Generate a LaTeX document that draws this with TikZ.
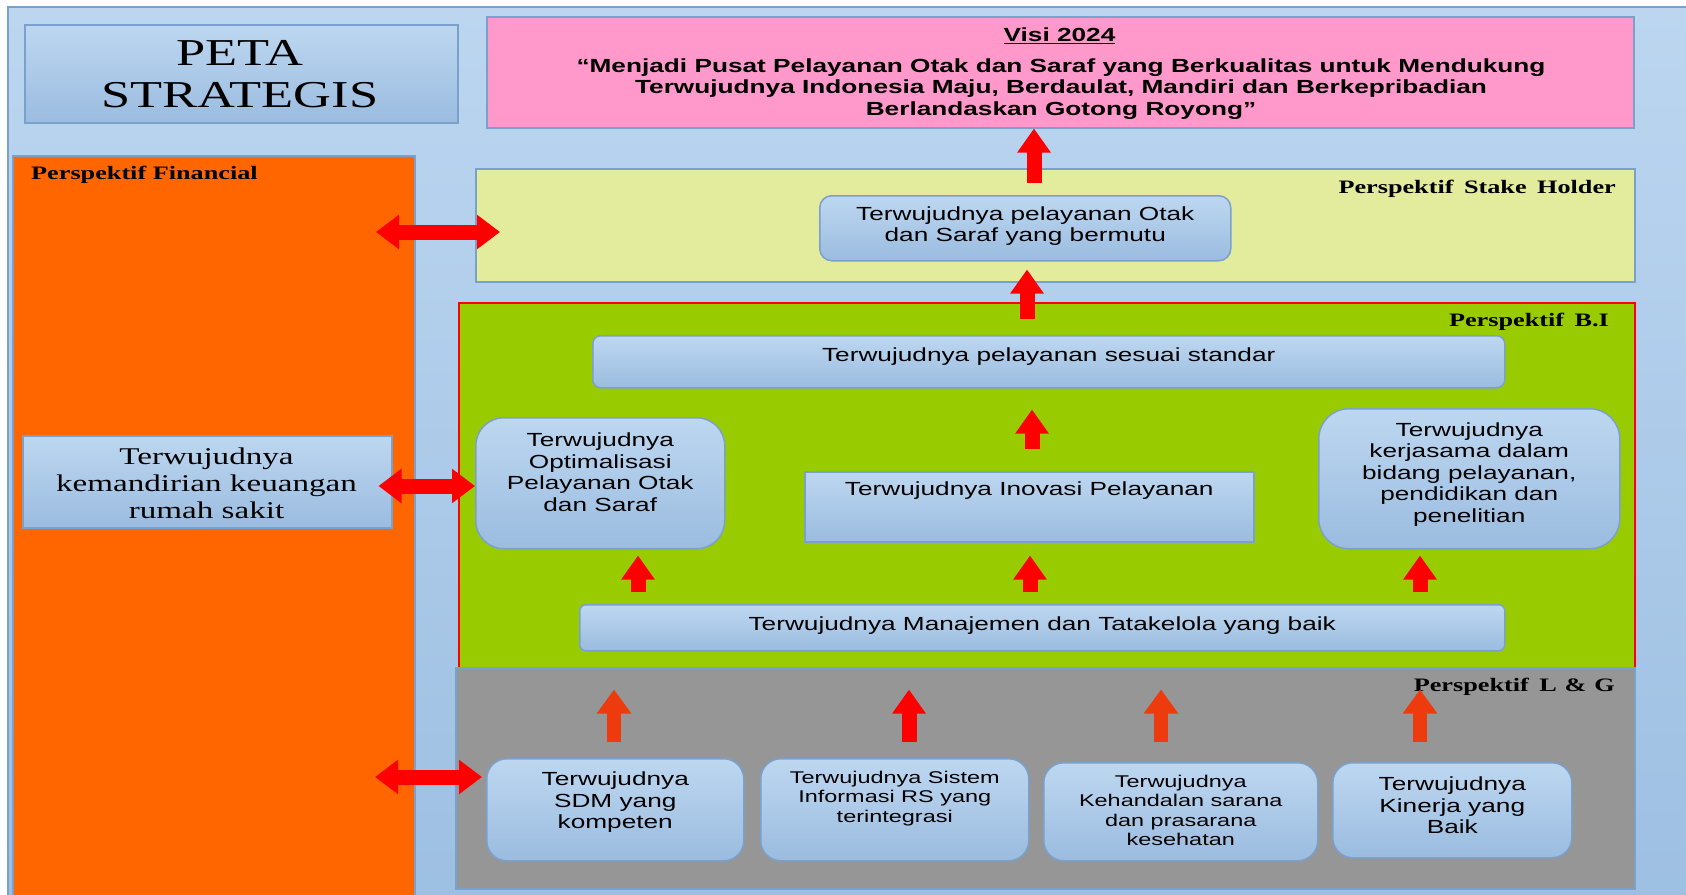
\documentclass[tikz,border=0pt]{standalone}
\usepackage{fontspec}
\setmainfont{Liberation Serif}
\setsansfont{Liberation Sans}
\usepackage{graphicx}
\usetikzlibrary{arrows.meta}

\definecolor{bgtop}{HTML}{BCD6F0}
\definecolor{bgbot}{HTML}{9DBFE2}
\definecolor{edge}{HTML}{7AA0CC}
\definecolor{ntop}{HTML}{BDD7F0}
\definecolor{nbot}{HTML}{9BBCE0}
\definecolor{pinkv}{HTML}{FF99CC}
\definecolor{shy}{HTML}{E3EB9C}
\definecolor{bigreen}{HTML}{99CC00}
\definecolor{lggray}{HTML}{969696}
\definecolor{finor}{HTML}{FF6600}
\definecolor{redar}{HTML}{FF0000}
\definecolor{orar}{HTML}{EE3B0E}

\newcommand{\hs}{1.38}
\newcommand{\SX}[1]{\scalebox{\hs}[1]{\begin{tabular}{@{}c@{}}#1\end{tabular}}}

\begin{document}
\begin{tikzpicture}[x=1pt,y=-1pt,
  panel/.style={draw=edge, line width=1.5pt, inner sep=0pt, anchor=north west},
  gbox/.style={draw=edge, line width=1.5pt, top color=ntop, bottom color=nbot, inner sep=0pt, anchor=north west},
  t19/.style={inner sep=0pt, font=\sffamily\fontsize{19}{21.5}\selectfont},
  t17/.style={inner sep=0pt, font=\sffamily\fontsize{17}{19.5}\selectfont},
  lab/.style={inner sep=0pt, font=\rmfamily\bfseries\fontsize{19}{22}\selectfont},
  uparr/.style={draw=redar, line width=15pt, -{Triangle[length=24pt,width=32pt]}},
  oarr/.style={draw=orar, line width=14pt, -{Triangle[length=24pt,width=33pt]}},
  dblarr/.style={draw=redar, line width=15pt, {Triangle[length=23pt,width=33pt]}-{Triangle[length=23pt,width=33pt]}}
]
\useasboundingbox (0,0) rectangle (1686,894);
% background
\path[top color=bgtop, bottom color=bgbot, draw=edge, line width=1.5pt] (8,7) rectangle (1700,910);

% title and vision
\node[gbox, minimum width=433pt, minimum height=98pt] (title) at (24,24) {};
\node[inner sep=0pt, font=\rmfamily\fontsize{38}{42}\selectfont] at (240,78) {\SX{PETA\\STRATEGIS}};
\node[panel, fill=pinkv, minimum width=1147pt, minimum height=111pt] (visi) at (486,16) {};
\node[t19, font=\sffamily\bfseries\fontsize{19}{21.5}\selectfont] at (1059.5,37) {\SX{\underline{Visi 2024}}};
\node[t19, font=\sffamily\bfseries\fontsize{19}{21.5}\selectfont] at (1061,89.5) {\SX{“Menjadi Pusat Pelayanan Otak dan Saraf yang Berkualitas untuk Mendukung\\Terwujudnya Indonesia Maju, Berdaulat, Mandiri dan Berkepribadian\\Berlandaskan Gotong Royong”}};

% panels
\node[panel, fill=finor, minimum width=402pt, minimum height=760pt] (finp) at (12,155) {};
\node[panel, fill=shy, minimum width=1159pt, minimum height=113pt] (shp) at (475,168) {};
\node[panel, draw=redar, fill=bigreen, minimum width=1176pt, minimum height=365pt] (bip) at (458,302) {};
\node[panel, fill=lggray, minimum width=1179pt, minimum height=221pt] (lgp) at (455,667) {};

\node[lab, anchor=base west] at (31,179) {\scalebox{\hs}[1]{Perspektif Financial}};
\node[lab, anchor=base east] at (1616,193) {\scalebox{\hs}[1]{Perspektif\hspace{0.4em}Stake\hspace{0.4em}Holder}};
\node[lab, anchor=base east] at (1609,326) {\scalebox{\hs}[1]{Perspektif\hspace{0.4em}B.I}};
\node[lab, anchor=base east] at (1615,691) {\scalebox{\hs}[1]{Perspektif\hspace{0.4em}L\hspace{0.3em}\&\hspace{0.3em}G}};

% financial node
\node[gbox, minimum width=369pt, minimum height=92pt] (fin) at (22,435) {};
\node[inner sep=0pt, font=\rmfamily\fontsize{24}{27}\selectfont] at (206.5,485.6) {\SX{Terwujudnya\\kemandirian keuangan\\rumah sakit}};

% stake holder node
\node[gbox, rounded corners=12pt, minimum width=411pt, minimum height=65pt] (shn) at (819,195) {};
\node[t19] at ([yshift=1.5pt]shn.center) {\SX{Terwujudnya pelayanan Otak\\dan Saraf yang bermutu}};

% B.I nodes
\node[gbox, rounded corners=8pt, minimum width=912pt, minimum height=52pt] (std) at (592,335) {};
\node[t19] at ([yshift=4.5pt]std.center) {\SX{Terwujudnya pelayanan sesuai standar}};
\node[gbox, rounded corners=28pt, minimum width=249pt, minimum height=131pt] (opt) at (475,417) {};
\node[t19] at ([yshift=8.5pt]opt.center) {\SX{Terwujudnya\\Optimalisasi\\Pelayanan Otak\\dan Saraf}};
\node[gbox, minimum width=449pt, minimum height=70pt] (inov) at (804,471) {};
\node[t19] at ([yshift=15.5pt]inov.center) {\SX{Terwujudnya Inovasi Pelayanan}};
\node[gbox, rounded corners=30pt, minimum width=301pt, minimum height=140pt] (kerja) at (1318,408) {};
\node[t19] at ([yshift=4pt]kerja.center) {\SX{Terwujudnya\\kerjasama dalam\\bidang pelayanan,\\pendidikan dan\\penelitian}};
\node[gbox, rounded corners=6pt, minimum width=925pt, minimum height=46pt] (man) at (579,604) {};
\node[t19] at ([yshift=1.5pt]man.center) {\SX{Terwujudnya Manajemen dan Tatakelola yang baik}};

% L&G nodes
\node[gbox, rounded corners=20pt, minimum width=257pt, minimum height=102pt] (sdm) at (486,758) {};
\node[t19] at ([yshift=7pt]sdm.center) {\SX{Terwujudnya\\SDM yang\\kompeten}};
\node[gbox, rounded corners=20pt, minimum width=268pt, minimum height=102pt] (sis) at (760,758) {};
\node[t17] at ([yshift=11pt]sis.center) {\SX{Terwujudnya Sistem\\Informasi RS yang\\terintegrasi}};
\node[gbox, rounded corners=20pt, minimum width=274pt, minimum height=98pt] (keh) at (1043,762) {};
\node[t17] at ([yshift=-1pt]keh.center) {\SX{Terwujudnya\\Kehandalan sarana\\dan prasarana\\kesehatan}};
\node[gbox, rounded corners=20pt, minimum width=239pt, minimum height=95pt] (kin) at (1332,762) {};
\node[t19] at ([yshift=2.5pt]kin.center) {\SX{Terwujudnya\\Kinerja yang\\Baik}};

% vertical arrows
\draw[uparr, shorten <=12pt] (1034,0 |- shn.north) -- (1034,0 |- visi.south);
\draw[uparr, shorten <=16pt, shorten >=8pt] (1027,0 |- std.north) -- (1027,0 |- shn.south);
\draw[uparr, shorten <=22pt, shorten >=21pt] (1032,0 |- inov.north) -- (1032,0 |- std.south);
\draw[uparr, shorten <=12pt, shorten >=6pt] (638,0 |- man.north) -- (638,0 |- opt.south);
\draw[uparr, shorten <=12pt, shorten >=13pt] (1030,0 |- man.north) -- (1030,0 |- inov.south);
\draw[uparr, shorten <=12pt, shorten >=6pt] (1420,0 |- man.north) -- (1420,0 |- kerja.south);
\draw[oarr, shorten <=16pt, shorten >=38pt] (614,0 |- sdm.north) -- (614,0 |- man.south);
\draw[uparr, shorten <=16pt, shorten >=38pt] (909,0 |- sis.north) -- (909,0 |- man.south);
\draw[oarr, shorten <=20pt, shorten >=38pt] (1161,0 |- keh.north) -- (1161,0 |- man.south);
\draw[oarr, shorten <=20pt, shorten >=38pt] (1420,0 |- kin.north) -- (1420,0 |- man.south);

% double arrows
\coordinate (d1a) at (376,232);
\coordinate (d1b) at (500,232);
\draw[dblarr] (d1a) -- (d1b);
\draw[dblarr, shorten <=-14pt] (fin.east |- 0,486) -- (opt.west |- 0,486);
\coordinate (d3a) at (375,777);
\draw[dblarr, shorten >=4pt] (d3a) -- (sdm.west |- 0,777);
\end{tikzpicture}
\end{document}
